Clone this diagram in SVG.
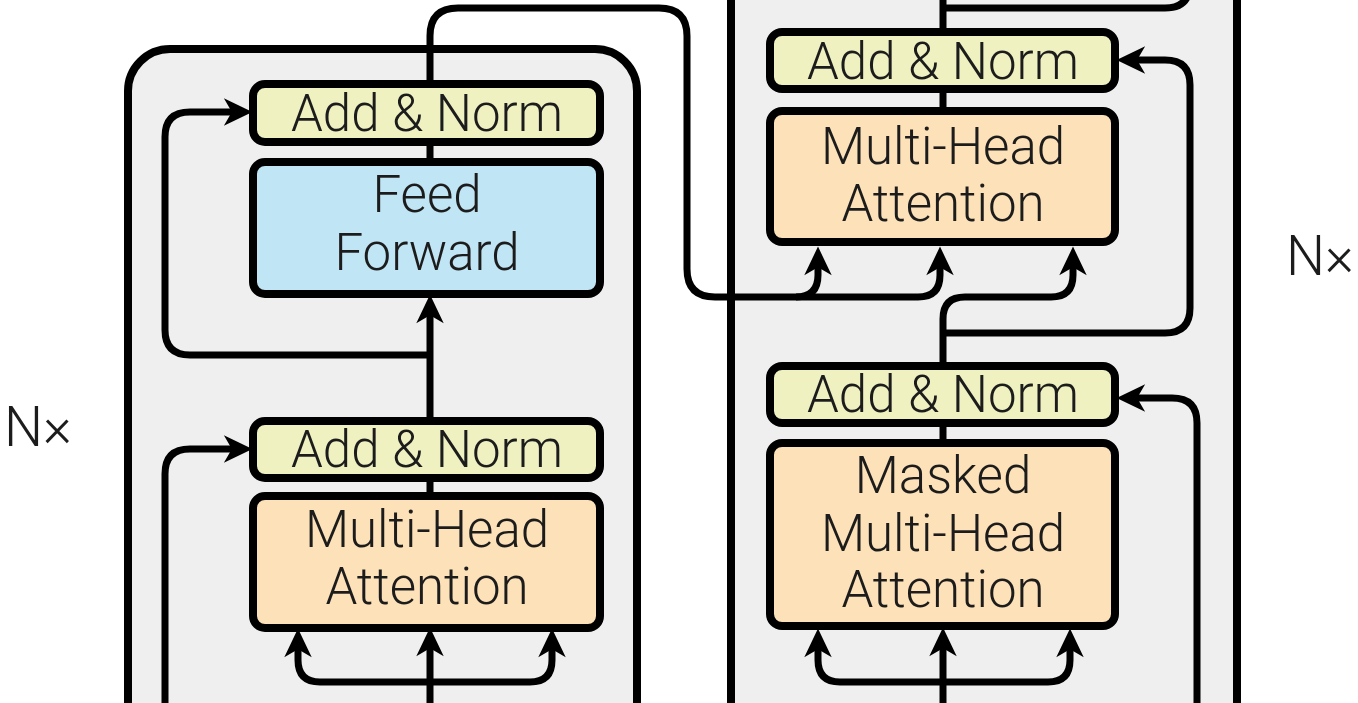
<svg xmlns="http://www.w3.org/2000/svg" width="1358" height="703" viewBox="0 0 1358 703">
<style>
.container{fill:#efefef;stroke:#000;stroke-width:8}
.box{stroke:#000;stroke-width:8}
.norm{fill:#f0f1c1}
.ff{fill:#c0e5f5}
.mha{fill:#fde1b8}
.lbl{font-family:Roboto,"Liberation Sans",sans-serif;font-weight:300;font-size:51px;fill:#1c1c1c;text-anchor:middle}
.nx{font-size:55px}
.c{fill:none;stroke:#000;stroke-width:7}
</style>
<defs>
<marker id="ah" markerUnits="userSpaceOnUse" markerWidth="40" markerHeight="40" viewBox="-5 -15 35 30" refX="8" refY="0" orient="auto" overflow="visible">
<path d="M0,-12 L25,0 L0,12 L7,0 Z" fill="#000"/>
</marker>
</defs>
<rect width="1358" height="703" fill="#fff"/>
<g id="encoder-block"><rect class="container" x="128" y="49" width="509" height="800" rx="42"/></g>
<g id="decoder-block"><rect class="container" x="731" y="-60" width="506" height="900"/></g>
<g id="connectors">
<path class="c" d="M430,82 V36 Q430,8 458,8 H659 Q687,8 687,36 V269 Q687,297 715,297 H796 Q818,297 818,275 V266" marker-end="url(#ah)"/>
<path class="c" d="M796,297 H918 Q940,297 940,275 V266" marker-end="url(#ah)"/>
<path class="c" d="M943,365 V319 Q943,297 965,297 H1051 Q1073,297 1073,275 V266" marker-end="url(#ah)"/>
<path class="c" d="M943,333 H1165 Q1190,333 1190,308 V85 Q1190,60 1165,60 H1136" marker-end="url(#ah)"/>
<path class="c" d="M943,30 V-10 M943,8 H1165 Q1190,8 1190,-17"/>
<path class="c" d="M943,90 V110 M943,423 V442"/>
<path class="c" d="M430,420 V314" marker-end="url(#ah)"/>
<path class="c" d="M430,143 V160 M430,478 V494"/>
<path class="c" d="M430,355 H190 Q165,355 165,330 V137 Q165,112 190,112 H233" marker-end="url(#ah)"/>
<path class="c" d="M430,710 V647" marker-end="url(#ah)"/>
<path class="c" d="M430,682 H320 Q298,682 298,660 V648" marker-end="url(#ah)"/>
<path class="c" d="M430,682 H530 Q552,682 552,660 V648" marker-end="url(#ah)"/>
<path class="c" d="M165,710 V474 Q165,449 190,449 H233" marker-end="url(#ah)"/>
<path class="c" d="M943,710 V647" marker-end="url(#ah)"/>
<path class="c" d="M943,682 H840 Q818,682 818,660 V648" marker-end="url(#ah)"/>
<path class="c" d="M943,682 H1048 Q1070,682 1070,660 V648" marker-end="url(#ah)"/>
<path class="c" d="M1197,710 V423 Q1197,398 1172,398 H1136" marker-end="url(#ah)"/>
</g>
<g id="enc-addnorm-2"><rect class="box norm" x="253" y="84" width="347" height="58" rx="12"/><text class="lbl" x="427" y="131">Add &amp; Norm</text></g>
<g id="enc-feedforward"><rect class="box ff" x="253" y="162" width="347" height="132" rx="12"/><text class="lbl" x="427" y="212">Feed</text><text class="lbl" x="427" y="270">Forward</text></g>
<g id="enc-addnorm-1"><rect class="box norm" x="253" y="421" width="347" height="57" rx="12"/><text class="lbl" x="427" y="467">Add &amp; Norm</text></g>
<g id="enc-mha"><rect class="box mha" x="253" y="496" width="347" height="132" rx="12"/><text class="lbl" x="427" y="547">Multi-Head</text><text class="lbl" x="427" y="604">Attention</text></g>
<g id="dec-addnorm-2"><rect class="box norm" x="770" y="32" width="345" height="57" rx="12"/><text class="lbl" x="943" y="79">Add &amp; Norm</text></g>
<g id="dec-mha"><rect class="box mha" x="770" y="111" width="345" height="131" rx="12"/><text class="lbl" x="943" y="164">Multi-Head</text><text class="lbl" x="943" y="221">Attention</text></g>
<g id="dec-addnorm-1"><rect class="box norm" x="770" y="366" width="345" height="57" rx="12"/><text class="lbl" x="943" y="412">Add &amp; Norm</text></g>
<g id="dec-masked-mha"><rect class="box mha" x="770" y="443" width="345" height="183" rx="12"/><text class="lbl" x="943" y="493">Masked</text><text class="lbl" x="943" y="551">Multi-Head</text><text class="lbl" x="943" y="607">Attention</text></g>
<g id="enc-nx"><text class="lbl nx" x="38" y="446">N×</text></g>
<g id="dec-nx"><text class="lbl nx" x="1320" y="275">N×</text></g>
</svg>
